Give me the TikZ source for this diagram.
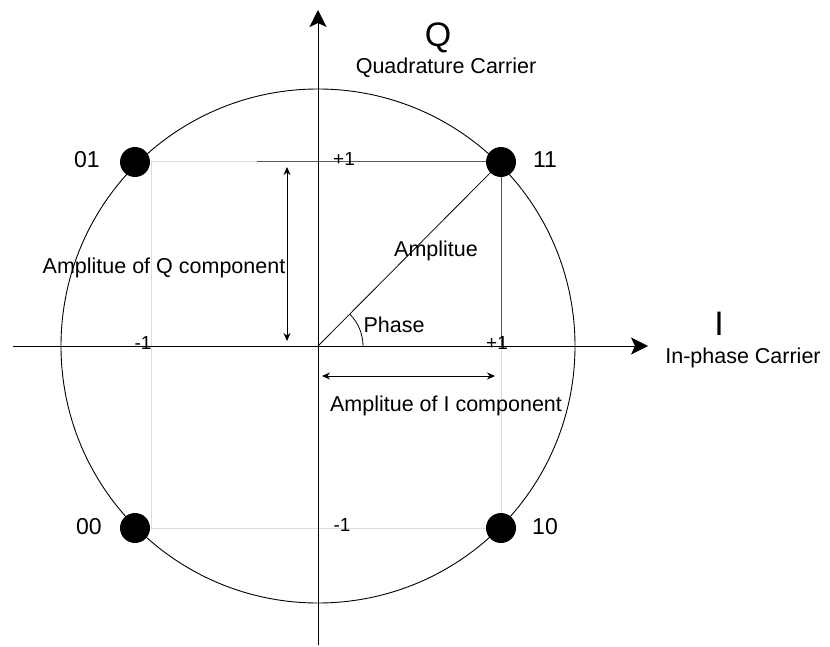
\documentclass[tikz,border=0pt]{standalone}
\usepackage{fontspec}
\setmainfont{Liberation Sans}
\usetikzlibrary{arrows.meta}
\definecolor{darkline}{HTML}{555555}
\definecolor{lightline}{HTML}{DDDDDD}
\begin{document}
\begin{tikzpicture}[x=1pt,y=-1pt,
  lbl/.style={inner sep=0pt,anchor=base,font=\fontsize{21.5}{25}\selectfont},
  num/.style={inner sep=0pt,anchor=base,font=\fontsize{23}{27}\selectfont},
  tick/.style={inner sep=0pt,anchor=base,font=\fontsize{19}{22}\selectfont},
  big/.style={inner sep=0pt,anchor=base,font=\fontsize{34}{38}\selectfont},
  dot/.style={circle,fill=black,inner sep=0pt,minimum size=30pt},
  axis/.style={line width=1pt,-{Stealth[length=17pt,width=17pt,inset=4pt]}},
  dim/.style={line width=0.9pt,{Stealth[length=8pt,width=7pt]}-{Stealth[length=8pt,width=7pt]}},
  light/.style={lightline,line width=1pt},
  dark/.style={darkline,line width=1pt}]
\useasboundingbox (0,0) rectangle (830,647);
% coordinates
\coordinate (O) at (318,346);
\coordinate (ytop) at (318,10);
\coordinate (ybot) at (318,645);
\coordinate (xleft) at (13,346);
\coordinate (xright) at (648,346);
\coordinate (tl) at (151,162);
\coordinate (bl) at (151,528);
\coordinate (tm) at (257,162);
\coordinate (rax) at (501,346);
\coordinate (qa) at (287,167);
\coordinate (qb) at (287,341);
\coordinate (ia) at (322,376);
\coordinate (ib) at (495,376);
% guide lines
\draw[light] (135,162) -- (tm);
\draw[light] (tl) -- (bl);
\draw[light] (bl) -- (501,528);
\draw[light] (rax) -- (501,528);
\draw[dark] (tm) -- (501,162);
\draw[dark] (501,162) -- (rax);
% circle
\draw[line width=0.9pt] (O) circle[radius=257];
% axes
\draw[axis] (ybot) -- (ytop);
\draw[axis] (xleft) -- (xright);
% dots
\node[dot] (d01) at (135,162) {};
\node[dot] (d11) at (501,162) {};
\node[dot] (d00) at (135,528) {};
\node[dot] (d10) at (501,528) {};
% amplitude and phase
\draw[line width=0.8pt] (O) -- (d11.center);
\draw[line width=0.8pt] ([xshift=45pt]O) arc[start angle=0,end angle=-45,radius=45];
% dimension arrows
\draw[dim] (qa) -- (qb);
\draw[dim] (ia) -- (ib);
% labels
\node[big] (Qt) at (438,47) {Q};
\node[lbl] (Qc) at (446,74) {Quadrature Carrier};
\node[big] (It) at (719,335) {I};
\node[lbl] (Ic) at (743,363) {In-phase Carrier};
\node[lbl] (aq) at (164,273) {Amplitue of Q component};
\node[lbl] (ai) at (446,411) {Amplitue of I component};
\node[lbl] (amp) at (436,257) {Amplitue};
\node[lbl] (ph) at (394,332) {Phase};
\node[tick] (p1t) at (344,166) {+1};
\node[tick] (p1r) at (497,349) {+1};
\node[tick] (m1l) at (143,349) {-1};
\node[tick] (m1b) at (342,531) {-1};
\node[num] (l01) at (87,168) {01};
\node[num] (l11) at (545,168) {11};
\node[num] (l00) at (89,534) {00};
\node[num] (l10) at (545,534) {10};
\end{tikzpicture}
\end{document}
